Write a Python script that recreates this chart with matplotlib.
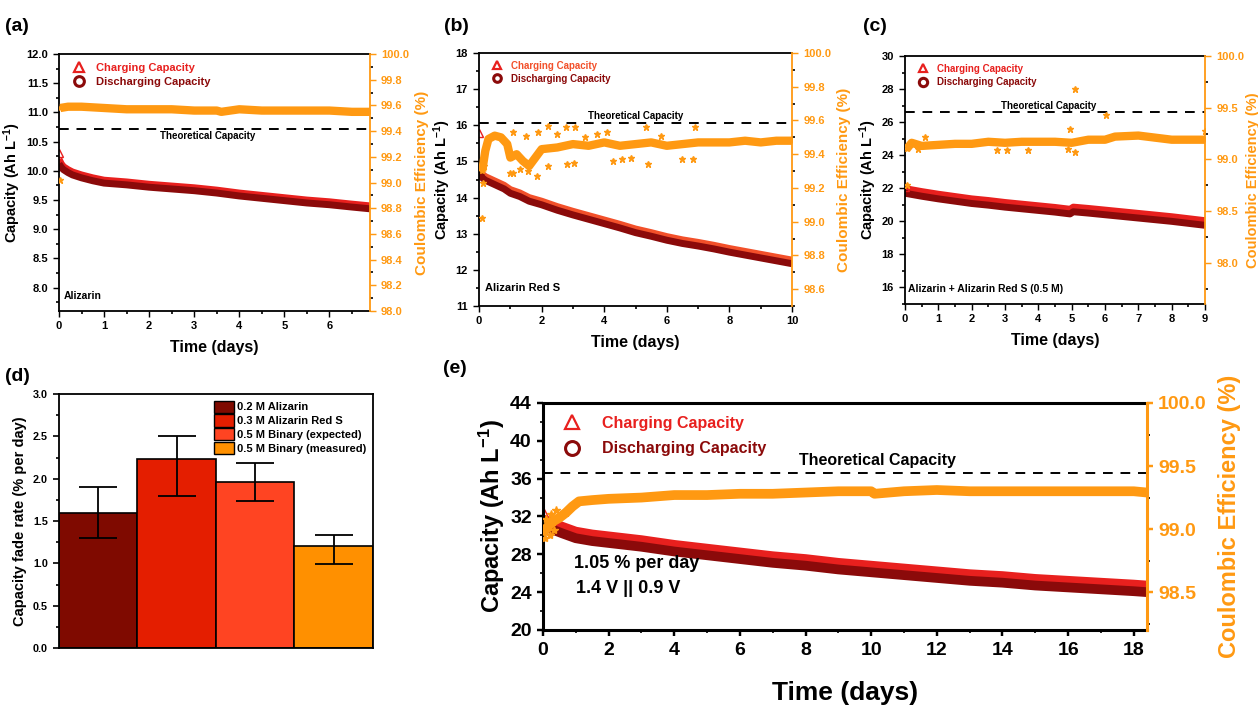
"""Capacity retention of alizarin / alizarin red S cells (panels a-e)."""

import matplotlib

matplotlib.use("Agg")
import matplotlib.pyplot as plt
from matplotlib.lines import Line2D
from matplotlib.patches import Patch
from matplotlib.ticker import FormatStrFormatter, MultipleLocator

plt.rcParams["font.family"] = ["Liberation Sans", "DejaVu Sans"]
plt.rcParams["font.weight"] = "bold"
plt.rcParams["axes.labelweight"] = "bold"
plt.rcParams["mathtext.fontset"] = "custom"
plt.rcParams["mathtext.rm"] = "Liberation Sans:bold"
plt.rcParams["mathtext.bf"] = "Liberation Sans:bold"
plt.rcParams["mathtext.default"] = "bf"

RED = "#E8201E"
DRED = "#8B0A0A"
ORANGE = "#FF9912"

# ---- panel (a): Alizarin ----
t_a = [0, 0.05, 0.1, 0.2, 0.3, 0.5, 0.75, 1.0, 1.5, 2.0, 2.5, 3.0, 3.5, 4.0, 4.5,
       5.0, 5.5, 6.0, 6.5, 6.9]
dis_a = [10.12, 10.06, 10.02, 9.97, 9.93, 9.88, 9.83, 9.79, 9.76, 9.72, 9.69, 9.66,
         9.62, 9.57, 9.53, 9.49, 9.45, 9.42, 9.38, 9.35]
chg_a = [10.20, 10.12, 10.07, 10.02, 9.98, 9.93, 9.88, 9.84, 9.81, 9.77, 9.74, 9.71,
         9.67, 9.62, 9.58, 9.54, 9.50, 9.47, 9.43, 9.40]
tce_a = [0.03, 0.2, 0.5, 1.0, 1.5, 2.0, 2.5, 3.0, 3.5, 3.6, 4.0, 4.5, 5.0, 5.5,
         6.0, 6.5, 6.9]
ce_a = [99.58, 99.59, 99.59, 99.58, 99.57, 99.57, 99.57, 99.56, 99.56, 99.55,
        99.57, 99.56, 99.56, 99.56, 99.56, 99.55, 99.55]
out_t_a = [0.02]
out_ce_a = [99.02]

# ---- panel (b): Alizarin Red S ----
t_b = [0, 0.1, 0.2, 0.4, 0.6, 0.8, 1.0, 1.3, 1.6, 2.0, 2.5, 3.0, 3.5, 4.0, 4.5,
       5.0, 5.5, 6.0, 6.5, 7.0, 7.5, 8.0, 8.5, 9.0, 9.5, 10.0]
dis_b = [14.75, 14.55, 14.48, 14.40, 14.32, 14.24, 14.12, 14.03, 13.90, 13.80,
         13.65, 13.52, 13.40, 13.28, 13.16, 13.03, 12.93, 12.82, 12.73, 12.66,
         12.58, 12.49, 12.41, 12.33, 12.25, 12.17]
chg_b = [14.85, 14.65, 14.58, 14.50, 14.42, 14.34, 14.22, 14.13, 14.00, 13.90,
         13.75, 13.62, 13.50, 13.38, 13.26, 13.13, 13.03, 12.92, 12.83, 12.76,
         12.68, 12.59, 12.51, 12.43, 12.35, 12.27]
tce_b = [0.1, 0.2, 0.3, 0.5, 0.7, 0.9, 1.0, 1.2, 1.4, 1.6, 1.8, 2.0, 2.5, 3.0,
         3.5, 4.0, 4.5, 5.0, 5.5, 6.0, 6.5, 7.0, 7.5, 8.0, 8.5, 9.0, 9.5, 10.0]
ce_b = [99.30, 99.42, 99.49, 99.51, 99.50, 99.46, 99.38, 99.40, 99.36, 99.33,
        99.38, 99.43, 99.44, 99.46, 99.45, 99.47, 99.45, 99.46, 99.47, 99.45,
        99.46, 99.47, 99.47, 99.47, 99.48, 99.47, 99.48, 99.48]
out_t_b = [0.09, 0.13, 0.16, 1.0, 1.08, 1.10, 1.50, 1.84, 1.88, 2.19, 2.20, 2.77,
           2.80, 3.04, 3.07, 3.76, 4.08, 4.27, 4.56, 4.86, 5.34, 5.39, 6.5, 6.83,
           6.9, 1.3, 1.55, 2.5, 3.4, 5.8]
out_ce_b = [99.02, 99.23, 99.33, 99.29, 99.29, 99.53, 99.51, 99.27, 99.53, 99.57,
            99.33, 99.56, 99.34, 99.35, 99.56, 99.52, 99.53, 99.36, 99.37, 99.38,
            99.56, 99.34, 99.37, 99.37, 99.56, 99.31, 99.30, 99.52, 99.50, 99.51]

# ---- panel (c): Alizarin + Alizarin Red S (0.5 M) ----
t_c = [0, 0.5, 1, 1.5, 2, 2.5, 3, 3.5, 4, 4.5, 4.95, 5.05, 5.5, 6, 6.5, 7, 7.5,
       8, 8.5, 9]
dis_c = [21.70, 21.52, 21.36, 21.22, 21.08, 20.98, 20.86, 20.76, 20.66, 20.56,
         20.45, 20.58, 20.50, 20.40, 20.30, 20.20, 20.10, 20.00, 19.88, 19.76]
chg_c = [21.98, 21.80, 21.64, 21.50, 21.36, 21.26, 21.14, 21.04, 20.94, 20.84,
         20.73, 20.86, 20.78, 20.68, 20.58, 20.48, 20.38, 20.28, 20.16, 20.04]
tce_c = [0.05, 0.2, 0.5, 1.0, 1.5, 2.0, 2.5, 3.0, 3.5, 4.0, 4.5, 5.0, 5.5, 6.0,
         6.3, 7.0, 7.5, 8.0, 8.5, 9.0]
ce_c = [99.10, 99.16, 99.13, 99.14, 99.15, 99.15, 99.17, 99.16, 99.17, 99.17,
        99.17, 99.16, 99.19, 99.19, 99.22, 99.23, 99.21, 99.19, 99.19, 99.19]
out_t_c = [0.05, 0.6, 0.4, 2.76, 3.05, 3.7, 4.9, 4.95, 5.1, 5.1, 6.03, 9.0]
out_ce_c = [98.75, 99.22, 99.10, 99.09, 99.09, 99.09, 99.10, 99.29, 99.68, 99.07,
            99.43, 99.27]

# ---- panel (d): fade rates ----
bar_labels = ["0.2 M Alizarin", "0.3 M Alizarin Red S", "0.5 M Binary (expected)",
              "0.5 M Binary (measured)"]
fade_rate = [1.60, 2.23, 1.96, 1.21]
fade_low = [1.30, 1.80, 1.74, 0.99]
fade_high = [1.90, 2.50, 2.18, 1.34]
bar_colors = ["#7F0A00", "#E41E00", "#FF4422", "#FF9000"]

# ---- panel (e): binary cell, long run ----
t_e = [0, 0.3, 0.6, 1, 1.5, 2, 3, 4, 5, 6, 7, 8, 9, 10, 11, 12, 13, 14, 15, 16,
       17, 18, 18.4]
dis_e = [31.0, 30.6, 30.2, 29.7, 29.4, 29.2, 28.8, 28.3, 27.9, 27.5, 27.1, 26.8,
         26.4, 26.1, 25.8, 25.5, 25.2, 25.0, 24.7, 24.5, 24.3, 24.1, 24.0]
chg_e = [31.7, 31.3, 30.9, 30.4, 30.1, 29.9, 29.5, 29.0, 28.6, 28.2, 27.8, 27.5,
         27.1, 26.8, 26.5, 26.2, 25.9, 25.7, 25.4, 25.2, 25.0, 24.8, 24.7]
tce_e = [0, 0.15, 0.3, 0.5, 0.7, 0.9, 1.1, 1.5, 2, 3, 4, 5, 6, 7, 8, 9, 10, 10.1,
         11, 12, 13, 14, 15, 16, 17, 18, 18.4]
ce_e = [98.97, 99.02, 99.06, 99.09, 99.13, 99.18, 99.22, 99.23, 99.24, 99.25,
        99.27, 99.27, 99.28, 99.28, 99.29, 99.30, 99.30, 99.28, 99.30, 99.31,
        99.30, 99.30, 99.30, 99.30, 99.30, 99.30, 99.29]
out_t_e = [0.05, 0.1, 0.2, 0.25, 0.35, 0.4]
out_ce_e = [98.93, 99.08, 98.95, 99.12, 98.99, 99.15]


def style_axis(ax, fs):
    ax.tick_params(which="both", direction="out", labelsize=fs, width=1.2)
    ax.tick_params(which="minor", length=2.5)
    ax.tick_params(which="major", length=4.5)


def cycling_panel(rect, t, chg, dis, tce, ce, out_t, out_ce, cfg):
    ax = fig.add_axes(rect)
    ax2 = ax.twinx()
    fs, lw_sp = cfg["fs"], cfg["spine"]

    ax.plot(t, chg, color=cfg.get("chg_color", RED), lw=cfg["band"],
            solid_capstyle="butt")
    ax.plot(t, dis, color=DRED, lw=cfg["band"], solid_capstyle="butt")
    ax.plot(t[:1], [chg[0] + cfg["first"]], ls="none", marker="^", mfc="none",
            mec=RED, ms=cfg["ms"], mew=1)
    ax.axhline(cfg["theo"], color="k", ls=(0, (5, 4)), lw=1.4)
    ax.text(cfg["theo_xy"][0], cfg["theo_xy"][1], "Theoretical Capacity",
            ha="center", va="center", fontsize=cfg["theo_fs"])

    ax2.plot(tce, ce, color=ORANGE, lw=cfg["ce_lw"], marker="*", ms=cfg["star"],
             solid_capstyle="butt")
    ax2.plot(out_t, out_ce, ls="none", color=ORANGE, marker="*", ms=cfg["star"] + 1)

    ax.set_xlim(*cfg["xlim"])
    ax.set_ylim(*cfg["ylim"])
    ax2.set_ylim(*cfg["ylim2"])
    ax.xaxis.set_major_locator(MultipleLocator(cfg["xmaj"]))
    ax.xaxis.set_minor_locator(MultipleLocator(cfg["xmaj"] / 2))
    ax.yaxis.set_major_locator(MultipleLocator(cfg["ymaj"]))
    ax.yaxis.set_minor_locator(MultipleLocator(cfg["ymaj"] / 2))
    ax2.yaxis.set_major_locator(MultipleLocator(cfg["y2maj"]))
    ax2.yaxis.set_minor_locator(MultipleLocator(cfg["y2maj"] / 2))
    ax.yaxis.set_major_formatter(FormatStrFormatter(cfg["yfmt"]))
    ax2.yaxis.set_major_formatter(FormatStrFormatter("%.1f"))

    style_axis(ax, fs)
    style_axis(ax2, fs)
    ax.tick_params(axis="x", pad=cfg.get("xpad", 3))
    ax2.tick_params(axis="y", colors=ORANGE)
    for s in ["left", "bottom", "top"]:
        ax.spines[s].set_linewidth(lw_sp)
    ax.spines["right"].set_visible(False)
    for s in ["left", "bottom", "top"]:
        ax2.spines[s].set_visible(False)
    ax2.spines["right"].set_color(ORANGE)
    ax2.spines["right"].set_linewidth(lw_sp)
    ax.tick_params(width=lw_sp * 0.8)
    ax2.tick_params(width=lw_sp * 0.8)

    ax.set_xlabel("Time (days)", fontsize=cfg["xl_fs"], labelpad=cfg["xl_pad"])
    ax.set_ylabel("Capacity (Ah L$^{-1}$)", fontsize=cfg["yl_fs"], labelpad=2)
    ax2.set_ylabel("Coulombic Efficiency (%)", fontsize=cfg["y2l_fs"], color=ORANGE,
                   labelpad=cfg.get("y2pad", 4))

    handles = [
        Line2D([], [], ls="none", marker="^", mfc="none", mec=RED, mew=1.6,
               ms=cfg["leg_ms"]),
        Line2D([], [], ls="none", marker="o", mfc="none", mec=DRED, mew=2.2,
               ms=cfg["leg_ms"]),
    ]
    ax.legend(handles, ["Charging Capacity", "Discharging Capacity"],
              loc="upper left", frameon=False, fontsize=cfg["leg_fs"],
              labelcolor=[cfg.get("chg_color", RED), DRED],
              handletextpad=cfg.get("leg_tp", 0.5),
              borderaxespad=cfg.get("leg_pad", 0.4), labelspacing=cfg.get("leg_sp", 0.4))
    return ax, ax2


fig = plt.figure(figsize=(12.58, 7.08), dpi=100)

small = dict(fs=8, spine=1.3, band=5, ms=6, first=0.08, theo_fs=7, ce_lw=6, star=4,
             xl_fs=11.5, xl_pad=6, yl_fs=10.5, y2l_fs=11, leg_fs=8, leg_ms=7)

ax_a, _ = cycling_panel([0.0469, 0.5607, 0.2472, 0.3630], t_a, chg_a, dis_a,
                        tce_a, ce_a, out_t_a, out_ce_a,
                        dict(small, xlim=(0, 6.9), ylim=(7.6, 12.0), ylim2=(98.0, 100.0),
                             xmaj=1, ymaj=0.5, y2maj=0.2, yfmt="%.1f", theo=10.72,
                             theo_xy=(3.3, 10.6), first=0.1))
ax_a.text(0.1, 7.85, "Alizarin", fontsize=7.5, va="center")

ax_b, _ = cycling_panel([0.3808, 0.5678, 0.2488, 0.3573], t_b, chg_b, dis_b,
                        tce_b, ce_b, out_t_b, out_ce_b,
                        dict(small, xlim=(0, 10), ylim=(11, 18), ylim2=(98.5, 100.0),
                             xmaj=2, ymaj=1, y2maj=0.2, yfmt="%d", theo=16.05,
                             theo_xy=(5.0, 16.25), first=0.95, chg_color="#F2502A",
                             leg_fs=7, leg_ms=5.5, leg_sp=0.3))
ax_b.text(0.2, 11.5, "Alizarin Red S", fontsize=8, va="center")

ax_c, _ = cycling_panel([0.7194, 0.5706, 0.2385, 0.3503], t_c, chg_c, dis_c,
                        tce_c, ce_c, out_t_c, out_ce_c,
                        dict(small, xlim=(0, 9), ylim=(15, 30), ylim2=(97.6, 100.0),
                             xmaj=1, ymaj=2, y2maj=0.5, yfmt="%d", theo=26.6,
                             theo_xy=(4.3, 27.0), first=0.1, leg_fs=7, leg_ms=6,
                             leg_sp=0.35, y2l_fs=10.5, y2pad=1))
ax_c.text(0.1, 15.9, "Alizarin + Alizarin Red S (0.5 M)", fontsize=7.5, va="center")

big = dict(fs=14, spine=2.2, band=7, ms=10, first=0.6, theo_fs=11.5, ce_lw=7, star=5,
           xl_fs=19, xl_pad=16, yl_fs=17, y2l_fs=17, leg_fs=11.5, leg_ms=10,
           y2pad=8, xpad=4, leg_sp=0.65, leg_tp=0.9)
ax_e, _ = cycling_panel([0.4316, 0.1102, 0.4801, 0.3206], t_e, chg_e, dis_e,
                        tce_e, ce_e, out_t_e, out_ce_e,
                        dict(big, xlim=(0, 18.4), ylim=(20, 44), ylim2=(98.2, 100.0),
                             xmaj=2, ymaj=4, y2maj=0.5, yfmt="%d", theo=36.6,
                             theo_xy=(10.2, 37.9)))
ax_e.text(2.85, 27.0, "1.05 % per day", fontsize=13, ha="center", va="center")
ax_e.text(2.6, 24.4, "1.4 V || 0.9 V", fontsize=13, ha="center", va="center")

# ---- panel (d) ----
ax_d = fig.add_axes([0.0469, 0.0847, 0.2496, 0.3588])
xpos = range(len(fade_rate))
yerr = [[v - lo for v, lo in zip(fade_rate, fade_low)],
        [hi - v for v, hi in zip(fade_rate, fade_high)]]
ax_d.bar(xpos, fade_rate, width=1.0, color=bar_colors, edgecolor="black", lw=1.2)
ax_d.errorbar(xpos, fade_rate, yerr=yerr, fmt="none", ecolor="black", elinewidth=1.3,
              capsize=14, capthick=1.3)
ax_d.set_xlim(-0.5, 3.5)
ax_d.set_ylim(0, 3.0)
ax_d.set_xticks([])
ax_d.yaxis.set_major_locator(MultipleLocator(0.5))
ax_d.yaxis.set_minor_locator(MultipleLocator(0.25))
ax_d.yaxis.set_major_formatter(FormatStrFormatter("%.1f"))
style_axis(ax_d, 7.8)
for s in ax_d.spines.values():
    s.set_linewidth(1.3)
ax_d.set_ylabel("Capacity fade rate (% per day)", fontsize=10.5, labelpad=4)
patches = [Patch(facecolor=c, edgecolor="black", lw=1) for c in bar_colors]
ax_d.legend(patches, bar_labels, loc="upper right", fontsize=8, frameon=False,
            handlelength=1.8, handleheight=1.3, handletextpad=0.3, labelspacing=0.15,
            borderaxespad=0.2)

# panel letters
for x, y, lab in [(0.004, 0.962, "(a)"), (0.353, 0.962, "(b)"), (0.686, 0.962, "(c)"),
                  (0.004, 0.468, "(d)"), (0.352, 0.480, "(e)")]:
    fig.text(x, y, lab, fontsize=14, va="center")

fig.savefig("out.png", dpi=100)
